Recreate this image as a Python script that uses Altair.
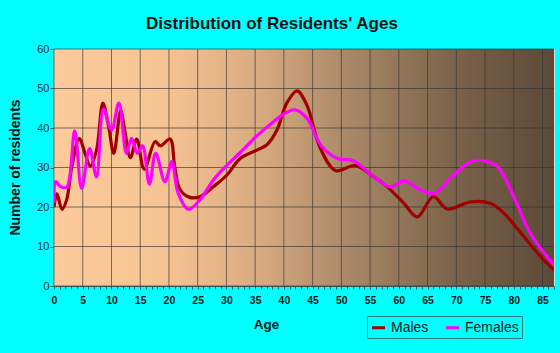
import altair as alt
import pandas as pd

# ---- data ----
male_age = [0, 0.5, 1.4, 2.2, 3.1, 4.4, 5.4, 6.3, 7.4, 8.5, 9.5, 10.4, 11.6, 12.3, 13.3, 14.4,
            15.7, 17.6, 18.5, 20.2, 21.0, 21.9, 23.5, 25.4, 27.7, 30.1, 32.4, 35.3, 37.0, 38.8,
            40.5, 42.3, 44.0, 46.3, 49.0, 52.4, 55.6, 58.0, 60.9, 63.2, 66.0, 68.4, 72.5, 76.0,
            78.3, 81.8, 84.7, 87.0]
male_val = [20.0, 23.3, 19.4, 21.8, 30.2, 37.3, 33.6, 30.4, 34.4, 46.3, 40.4, 33.6, 44.4, 39.5, 32.5, 37.2,
            29.6, 36.6, 35.5, 37.2, 30.2, 24.5, 22.5, 22.6, 25.1, 28.1, 32.3, 34.4, 35.7, 39.5,
            46.3, 49.4, 45.8, 35.0, 29.2, 30.5, 27.7, 25.1, 20.9, 17.5, 22.6, 19.5, 21.3, 20.9,
            18.4, 12.4, 7.4, 4.0]

female_age = [0, 0.3, 1.0, 2.2, 3.6, 4.8, 6.2, 7.4, 8.6, 10.0, 11.3, 12.6, 13.5, 14.5, 15.4, 16.6,
              17.7, 19.3, 20.5, 21.6, 23.4, 25.4, 27.7, 30.1, 32.4, 35.3, 38.2, 40.5, 42.0, 44.0,
              46.5, 49.3, 52.1, 55.6, 58.6, 60.9, 63.8, 66.1, 69.0, 72.5, 74.8, 77.2, 80.0, 82.9, 87.0]
female_val = [21.0, 26.4, 25.3, 25.0, 39.3, 24.7, 34.8, 27.6, 44.8, 39.5, 46.3, 33.6, 37.4, 33.6, 35.5, 25.8,
              33.6, 26.4, 31.5, 23.5, 19.4, 21.8, 26.8, 30.6, 33.8, 38.0, 41.6, 44.0, 44.6, 42.5,
              35.5, 32.3, 31.7, 27.7, 25.1, 26.6, 24.3, 23.4, 27.3, 31.5, 31.7, 30.2, 22.6, 13.3, 5.3]

series_names = ["Males", "Females"]
series_colors = ["#A00000", "#FF00FF"]

x_grid = list(range(0, 90, 5))
y_grid = list(range(0, 70, 10))
x_ticks = list(range(0, 88))

df = pd.concat([
    pd.DataFrame({"age": male_age, "value": male_val, "series": "Males"}),
    pd.DataFrame({"age": female_age, "value": female_val, "series": "Females"}),
])

FONT = "Liberation Sans"
xs = alt.Scale(domain=[0, 87], nice=False, zero=False)
ys = alt.Scale(domain=[0, 60], nice=False)

x_axis = alt.Axis(values=x_ticks,
                  labelExpr="datum.value % 5 === 0 ? datum.label : ''",
                  labelOverlap=False,
                  title="Age", titleX=212, titleY=38, titleAlign="center",
                  titleBaseline="middle", titleFontSize=13.5, titleFontWeight="bold",
                  labelFontSize=10.5, labelFontWeight="bold", labelColor="#1a1a1a",
                  tickSize=3, labelPadding=6, grid=False, labelFlush=False,
                  domainColor="#336666", tickColor="#336666")
y_axis = alt.Axis(values=y_grid, labelOverlap=False,
                  title="Number of residents", titleX=-39, titleY=118,
                  titleAlign="center", titleBaseline="middle", titleAngle=-90,
                  titleFontSize=14, titleFontWeight="bold",
                  labelFontSize=11, labelColor="#333333", tickSize=4, labelPadding=1,
                  grid=False, domainColor="#336666", tickColor="#336666")

gradient = alt.LinearGradient(
    gradient="linear", x1=0, x2=1, y1=0, y2=0,
    stops=[
        alt.GradientStop(color="#FDCB9B", offset=0),
        alt.GradientStop(color="#F6C393", offset=0.22),
        alt.GradientStop(color="#DBAC81", offset=0.40),
        alt.GradientStop(color="#A68666", offset=0.60),
        alt.GradientStop(color="#7B634B", offset=0.80),
        alt.GradientStop(color="#5C4937", offset=1),
    ],
)

bg = alt.Chart(alt.Data(values=[{"a": 0}])).mark_rect(color=gradient).encode(
    x=alt.datum(0, scale=xs, axis=x_axis, type="quantitative"), x2=alt.datum(87),
    y=alt.datum(0, scale=ys, axis=y_axis, type="quantitative"), y2=alt.datum(60),
)

vgrid = alt.Chart(pd.DataFrame({"g": x_grid})).mark_rule(color="#333333", opacity=0.65, strokeWidth=1).encode(
    x=alt.X("g:Q", scale=xs, axis=x_axis),
)
hgrid = alt.Chart(pd.DataFrame({"g": y_grid})).mark_rule(color="#333333", opacity=0.65, strokeWidth=1).encode(
    y=alt.Y("g:Q", scale=ys, axis=y_axis),
)

lines = alt.Chart(df).mark_line(interpolate="catmull-rom", strokeWidth=3.2, clip=True).encode(
    x=alt.X("age:Q", scale=xs, axis=x_axis),
    y=alt.Y("value:Q", scale=ys, axis=y_axis),
    color=alt.Color("series:N", scale=alt.Scale(domain=series_names, range=series_colors),
                    sort=series_names,
                    legend=alt.Legend(title=None, orient="none", legendX=313, legendY=267,
                                      direction="horizontal", symbolType="stroke",
                                      symbolSize=170, symbolStrokeWidth=3,
                                      labelFontSize=14, labelColor="#1a1a1a", labelOffset=4,
                                      columnPadding=10, padding=3,
                                      strokeColor="#2E7D7D", fillColor="#00FFFF")),
)

chart = alt.layer(bg, vgrid, hgrid, lines).properties(
    width=500, height=237,
    title=alt.Title("Distribution of Residents' Ages", fontSize=17, fontWeight="bold",
                    font=FONT, color="#111111", anchor="middle", dx=-32, offset=10),
    autosize=alt.AutoSizeParams(type="none"),
    padding={"left": 54, "top": 49, "right": 6, "bottom": 67},
    background="#00FFFF",
).configure_view(stroke="#224444", strokeWidth=1).configure(
    font=FONT
).configure_axis(labelFont=FONT, titleFont=FONT, titleColor="#111111").configure_legend(
    labelFont=FONT
)

chart.save("out.html", embed_options={"renderer": "svg", "actions": False})
